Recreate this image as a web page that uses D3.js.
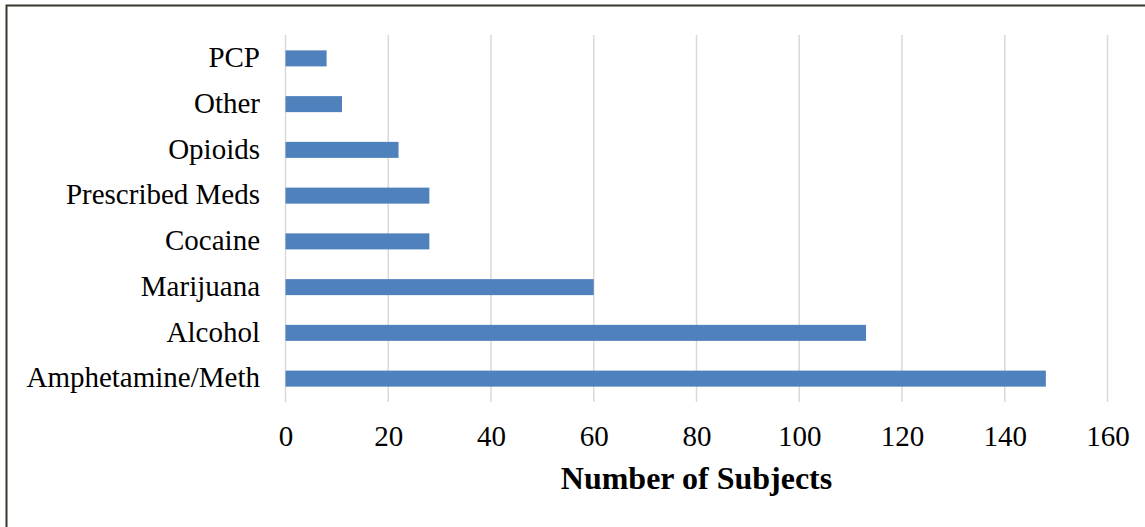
<!DOCTYPE html>
<html>
<head>
<meta charset="utf-8">
<script src="https://cdn.jsdelivr.net/npm/d3@7/dist/d3.min.js"></script>
<style>
html,body{margin:0;padding:0;background:#fff;}
svg{display:block;}
</style>
</head>
<body>
<script>
const categories = ["PCP","Other","Opioids","Prescribed Meds","Cocaine","Marijuana","Alcohol","Amphetamine/Meth"];
const values = [8,11,22,28,28,60,113,148];
const xTicks = [0,20,40,60,80,100,120,140,160];
const axisTitle = "Number of Subjects";

const W = 1145, H = 527;
const svg = d3.select("body").append("svg").attr("width",W).attr("height",H);
svg.append("rect").attr("width",W).attr("height",H).attr("fill","#fff");

// frame (only top and left visible in crop)
svg.append("path")
  .attr("d", `M6.5,${H} L6.5,5.5 L${W},5.5`)
  .attr("fill","none").attr("stroke","#3a372c").attr("stroke-width",2);

const x = d3.scaleLinear().domain([0,160]).range([285.5,1107.5]);
const y = d3.scaleBand().domain(categories).range([35.5,401.5]).paddingInner(0.65).paddingOuter(0.325);

const font = "'Liberation Serif','Times New Roman',Times,serif";

// gridlines
svg.append("g").selectAll("line").data(xTicks).join("line")
  .attr("x1",d=>x(d)).attr("x2",d=>x(d))
  .attr("y1",35).attr("y2",402)
  .attr("stroke","#d9d9d9").attr("stroke-width",1.5);

// bars
svg.append("g").selectAll("rect").data(values).join("rect")
  .attr("x",x(0))
  .attr("y",(d,i)=>y(categories[i]))
  .attr("width",d=>x(d)-x(0))
  .attr("height",y.bandwidth())
  .attr("fill","#4f81bd");

// x axis labels
const xAxis = d3.axisBottom(x).tickValues(xTicks).tickSize(0).tickPadding(0).tickFormat(d3.format("d"));
const gx = svg.append("g").attr("transform","translate(0,425)").call(xAxis);
gx.select(".domain").remove();
gx.selectAll("text").attr("font-family",font).attr("font-size",29).attr("fill","#000").attr("dy","0.72em");

// y axis labels
const yAxis = d3.axisLeft(y).tickSize(0).tickPadding(0);
const gy = svg.append("g").attr("transform","translate(260,0)").call(yAxis);
gy.select(".domain").remove();
gy.selectAll("text").attr("font-family",font).attr("font-size",29).attr("fill","#000").attr("dy","0.3em");

// axis title
svg.append("text").attr("x",(x(0)+x(160))/2).attr("y",489)
  .attr("text-anchor","middle").attr("font-family",font)
  .attr("font-size",32).attr("font-weight","bold").attr("fill","#000")
  .text(axisTitle);
</script>
</body>
</html>
